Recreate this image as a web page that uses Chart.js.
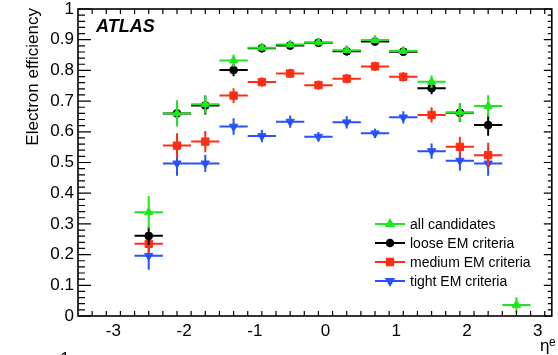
<!DOCTYPE html>
<html>
<head>
<meta charset="utf-8">
<script src="https://cdn.jsdelivr.net/npm/chart.js@4/dist/chart.umd.min.js"></script>
<style>
  html, body { margin: 0; padding: 0; background: #fff; }
  canvas { display: block; }
</style>
</head>
<body>
<canvas id="c" width="558" height="355"></canvas>
<script>
// ---- data ----
const etaCenters = [-2.5, -2.1, -1.7, -1.3, -0.9, -0.5, -0.1, 0.3, 0.7, 1.1, 1.5, 1.9, 2.3, 2.7];
const binWidth = 0.4;

const allCandidates = [0.338, 0.660, 0.690, 0.832, 0.874, 0.884, 0.891, 0.866, 0.899, 0.863, 0.763, 0.663, 0.684, 0.036];
const allErr        = [0.053, 0.043, 0.030, 0.020, 0.010, 0.010, 0.010, 0.010, 0.010, 0.010, 0.020, 0.030, 0.035, 0.025];

const looseEM  = [0.261, 0.660, 0.686, 0.801, 0.872, 0.881, 0.890, 0.862, 0.894, 0.861, 0.742, 0.662, 0.622, null];
const looseErr = [0.030, 0.040, 0.030, 0.020, 0.010, 0.010, 0.010, 0.010, 0.010, 0.010, 0.020, 0.030, 0.035, null];

const mediumEM  = [0.235, 0.555, 0.568, 0.718, 0.762, 0.790, 0.752, 0.773, 0.813, 0.779, 0.655, 0.551, 0.524, null];
const mediumErr = [0.030, 0.040, 0.035, 0.024, 0.015, 0.015, 0.015, 0.015, 0.015, 0.015, 0.025, 0.033, 0.040, null];

const tightEM  = [0.196, 0.497, 0.497, 0.617, 0.586, 0.633, 0.584, 0.631, 0.595, 0.647, 0.537, 0.506, 0.497, null];
const tightErr = [0.045, 0.040, 0.028, 0.027, 0.020, 0.020, 0.015, 0.020, 0.015, 0.020, 0.025, 0.033, 0.040, null];

const seriesLabels = ['all candidates', 'loose EM criteria', 'medium EM criteria', 'tight EM criteria'];
const xTickValues = [-3, -2, -1, 0, 1, 2, 3];
const yTickValues = [0, 0.1, 0.2, 0.3, 0.4, 0.5, 0.6, 0.7, 0.8, 0.9, 1];

// ---- styling ----
const FONT = "'Liberation Sans', Arial, Helvetica, sans-serif";
const colors = ['rgb(30,230,30)', '#000000', 'rgb(255,45,20)', 'rgb(40,80,255)'];
const styles = [
  { pointStyle: 'triangle', radius: 4.8, rotation: 0 },
  { pointStyle: 'circle',   radius: 3.9, rotation: 0 },
  { pointStyle: 'rect',     radius: 5.2, rotation: 0 },
  { pointStyle: 'triangle', radius: 4.8, rotation: 180 }
];

function mk(values, errs) {
  return etaCenters.map((x, i) => ({ x: x, y: values[i], err: errs[i] })).filter(p => p.y !== null);
}
const seriesData = [mk(allCandidates, allErr), mk(looseEM, looseErr), mk(mediumEM, mediumErr), mk(tightEM, tightErr)];

const datasets = seriesData.map((d, i) => ({
  label: seriesLabels[i],
  data: d,
  showLine: false,
  backgroundColor: colors[i],
  borderColor: colors[i],
  pointStyle: styles[i].pointStyle,
  pointRadius: styles[i].radius,
  pointRotation: styles[i].rotation,
  pointBorderWidth: 1,
  pointHoverRadius: styles[i].radius
}));

const errorBars = {
  id: 'errorBars',
  beforeDatasetDraw(chart, args) {
    const ds = chart.data.datasets[args.index];
    const xs = chart.scales.x, ys = chart.scales.y;
    const ctx = chart.ctx;
    ctx.save();
    ctx.strokeStyle = ds.borderColor;
    ctx.lineWidth = 2;
    ds.data.forEach(p => {
      const px = xs.getPixelForValue(p.x), py = ys.getPixelForValue(p.y);
      const x0 = xs.getPixelForValue(p.x - binWidth / 2), x1 = xs.getPixelForValue(p.x + binWidth / 2);
      const y0 = ys.getPixelForValue(p.y - p.err), y1 = ys.getPixelForValue(p.y + p.err);
      ctx.beginPath();
      ctx.moveTo(x0, py); ctx.lineTo(x1, py);
      ctx.moveTo(px, y0); ctx.lineTo(px, y1);
      ctx.stroke();
    });
    ctx.restore();
  }
};

const frameAndDecor = {
  id: 'frameAndDecor',
  afterDraw(chart) {
    const ctx = chart.ctx;
    const a = chart.chartArea;
    const xs = chart.scales.x, ys = chart.scales.y;
    ctx.save();
    ctx.strokeStyle = '#000';
    ctx.lineWidth = 1.6;
    ctx.strokeRect(a.left, a.top, a.right - a.left, a.bottom - a.top);

    ctx.lineWidth = 1.2;
    ctx.beginPath();
    // x ticks (bottom & top)
    for (let k = -35; k <= 32; k += 2) {
      const v = k / 10;
      const px = xs.getPixelForValue(v);
      if (px < a.left + 0.5 || px > a.right - 0.5) continue;
      const major = Math.abs(v - Math.round(v)) < 1e-6;
      const len = major ? 9 : 5;
      ctx.moveTo(px, a.bottom); ctx.lineTo(px, a.bottom - len);
      ctx.moveTo(px, a.top); ctx.lineTo(px, a.top + len);
    }
    // y ticks (left & right)
    for (let k = 0; k <= 50; k++) {
      const v = k / 50;
      const py = ys.getPixelForValue(v);
      const major = k % 5 === 0;
      ctx.moveTo(a.left, py); ctx.lineTo(a.left + (major ? 13 : 7), py);
      ctx.moveTo(a.right, py); ctx.lineTo(a.right - (major ? 8 : 4), py);
    }
    ctx.stroke();

    // y title
    ctx.fillStyle = '#000';
    ctx.save();
    ctx.translate(38, 8);
    ctx.rotate(-Math.PI / 2);
    ctx.font = '17px ' + FONT;
    ctx.textAlign = 'right';
    ctx.textBaseline = 'alphabetic';
    ctx.fillText('Electron efficiency', 0, 0);
    ctx.restore();

    // x title
    ctx.font = '17px ' + FONT;
    ctx.textAlign = 'left';
    ctx.textBaseline = 'alphabetic';
    ctx.fillText('\u03B7', 540, 351);
    ctx.font = '12px ' + FONT;
    ctx.fillText('e', 549, 346);

    // clipped fragment bottom-left
    ctx.font = '17px ' + FONT;
    ctx.textAlign = 'center';
    ctx.fillText('1', 65, 364);

    // ATLAS label
    ctx.font = 'italic bold 18px ' + FONT;
    ctx.textAlign = 'left';
    ctx.fillText('ATLAS', 96, 32);

    // legend
    const rows = [224, 243, 262, 281];
    ctx.font = '14px ' + FONT;
    ctx.textBaseline = 'middle';
    rows.forEach((ry, i) => {
      ctx.strokeStyle = colors[i];
      ctx.lineWidth = 2;
      ctx.beginPath();
      ctx.moveTo(375, ry); ctx.lineTo(405, ry);
      ctx.stroke();
      ctx.fillStyle = colors[i];
      Chart.helpers.drawPoint(ctx, {
        pointStyle: styles[i].pointStyle,
        radius: styles[i].radius * 0.85,
        rotation: styles[i].rotation,
        borderWidth: 1
      }, 390, ry);
      ctx.fill();
      ctx.fillStyle = '#000';
      ctx.fillText(seriesLabels[i], 410, ry + 1);
    });
    ctx.restore();
  }
};

new Chart(document.getElementById('c'), {
  type: 'scatter',
  data: { datasets: datasets },
  plugins: [errorBars, frameAndDecor],
  options: {
    responsive: false,
    animation: false,
    events: [],
    layout: { padding: { top: 9, right: 5, left: 0, bottom: 0 } },
    plugins: { legend: { display: false }, tooltip: { enabled: false } },
    scales: {
      x: {
        type: 'linear',
        min: -3.5, max: 3.2,
        grid: { display: false, drawTicks: false },
        border: { display: false },
        afterBuildTicks: s => { s.ticks = xTickValues.map(v => ({ value: v })); },
        afterFit: s => { s.height = 39; s.paddingLeft = 0; s.paddingRight = 0; },
        ticks: {
          font: { size: 17, family: FONT }, color: '#000', padding: 5,
          maxRotation: 0, minRotation: 0, autoSkip: false,
          callback: v => String(v)
        }
      },
      y: {
        type: 'linear',
        min: 0, max: 1,
        grid: { display: false, drawTicks: false },
        border: { display: false },
        afterBuildTicks: s => { s.ticks = yTickValues.map(v => ({ value: v })); },
        afterFit: s => { s.width = 78; s.paddingTop = 0; s.paddingBottom = 0; },
        ticks: {
          font: { size: 17, family: FONT }, color: '#000', padding: 4,
          autoSkip: false,
          callback: v => String(Math.round(v * 10) / 10)
        }
      }
    }
  }
});
</script>
</body>
</html>
